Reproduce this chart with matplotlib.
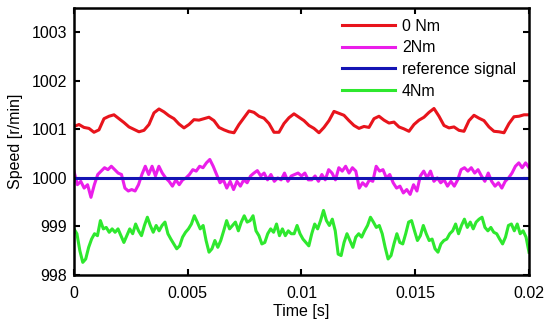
import matplotlib
matplotlib.use("Agg")
import matplotlib.pyplot as plt
import numpy as np

# speed traces, evenly spaced over 0 .. 0.02 s
speed_0nm = [1001.06, 1001.10, 1001.04, 1001.02, 1000.94, 1000.99, 1001.22, 1001.27, 1001.30, 1001.22,
             1001.14, 1001.05, 1001.00, 1000.95, 1000.98, 1001.10, 1001.34, 1001.42, 1001.36, 1001.28,
             1001.22, 1001.11, 1001.03, 1001.10, 1001.20, 1001.19, 1001.22, 1001.25, 1001.18, 1001.04,
             1000.99, 1000.95, 1000.93, 1001.10, 1001.24, 1001.38, 1001.35, 1001.27, 1001.23, 1001.12,
             1000.94, 1000.94, 1001.12, 1001.24, 1001.32, 1001.25, 1001.18, 1001.08, 1001.02, 1000.93,
             1001.04, 1001.18, 1001.37, 1001.33, 1001.29, 1001.18, 1001.08, 1001.02, 1001.06, 1001.04,
             1001.22, 1001.27, 1001.19, 1001.13, 1001.15, 1001.05, 1001.01, 1000.96, 1001.10, 1001.19,
             1001.25, 1001.35, 1001.43, 1001.27, 1001.08, 1001.03, 1001.05, 1000.98, 1000.96, 1001.18,
             1001.29, 1001.23, 1001.18, 1001.05, 1000.96, 1000.95, 1000.93, 1001.12, 1001.26, 1001.27,
             1001.30, 1001.30]

speed_2nm = [1000.14, 999.86, 999.93, 999.79, 999.86, 999.60, 999.86, 1000.07, 1000.14, 1000.21,
             1000.17, 1000.24, 1000.17, 1000.10, 1000.07, 999.79, 999.73, 999.76, 999.73, 999.86,
             1000.07, 1000.24, 1000.07, 1000.24, 1000.04, 1000.24, 1000.10, 1000.00, 999.93, 999.83,
             999.96, 999.86, 999.96, 1000.00, 1000.07, 1000.17, 1000.14, 1000.24, 1000.21, 1000.31,
             1000.38, 1000.24, 1000.07, 999.90, 999.96, 999.79, 999.93, 999.76, 999.93, 999.83,
             999.96, 999.90, 1000.04, 1000.10, 1000.15, 1000.04, 1000.10, 999.96, 1000.07, 999.93,
             1000.00, 999.96, 1000.10, 999.93, 1000.04, 1000.07, 1000.10, 1000.04, 1000.10, 999.96,
             999.96, 1000.04, 999.93, 1000.07, 999.96, 1000.17, 1000.10, 999.96, 1000.21, 1000.14,
             1000.24, 1000.10, 1000.21, 1000.14, 999.79, 999.90, 999.83, 999.96, 999.93, 1000.24,
             1000.14, 1000.17, 1000.00, 1000.07, 999.90, 999.79, 999.83, 999.69, 999.76, 999.66,
             999.86, 999.73, 1000.04, 1000.14, 1000.00, 1000.14, 999.93, 1000.00, 999.90, 999.96,
             999.83, 999.93, 999.83, 999.96, 1000.17, 1000.21, 1000.14, 1000.21, 1000.10, 1000.17,
             1000.04, 999.93, 1000.10, 999.93, 999.83, 999.90, 999.79, 999.93, 1000.00, 1000.10,
             1000.24, 1000.31, 1000.21, 1000.31, 1000.21]

speed_ref = [1000.0, 1000.0]

speed_4nm = [998.95, 998.85, 998.50, 998.26, 998.33, 998.57, 998.74, 998.85, 998.81, 999.12,
             998.95, 998.98, 998.88, 998.95, 998.88, 998.95, 998.81, 998.67, 998.81, 998.95,
             998.85, 999.05, 998.91, 998.81, 999.02, 999.19, 999.02, 998.88, 999.02, 998.91,
             999.02, 999.09, 998.85, 998.74, 998.64, 998.54, 998.60, 998.78, 998.88, 998.95,
             999.05, 999.22, 999.09, 998.95, 999.02, 998.71, 998.47, 998.54, 998.71, 998.57,
             998.71, 998.91, 999.12, 998.95, 999.02, 999.09, 998.91, 999.09, 999.22, 999.09,
             999.12, 999.22, 998.91, 998.81, 998.64, 998.67, 998.85, 998.95, 998.88, 999.05,
             998.81, 998.95, 998.81, 998.91, 998.85, 998.85, 999.02, 998.85, 998.74, 998.67,
             998.60, 998.85, 999.05, 998.95, 999.12, 999.33, 999.12, 999.02, 999.15, 998.91,
             998.43, 998.40, 998.67, 998.85, 998.71, 998.57, 998.78, 998.85, 998.78, 998.91,
             999.02, 999.19, 999.09, 998.98, 999.02, 998.85, 998.57, 998.33, 998.40, 998.64,
             998.85, 998.67, 998.64, 998.85, 999.09, 999.12, 998.91, 998.71, 998.81, 999.02,
             998.85, 998.71, 998.74, 998.54, 998.47, 998.64, 998.71, 998.74, 998.85, 998.91,
             999.05, 998.85, 999.02, 999.15, 998.98, 999.09, 998.95, 999.09, 999.15, 999.19,
             998.98, 998.91, 998.98, 998.88, 998.85, 998.74, 998.64, 998.78, 999.02, 999.05,
             998.91, 999.05, 998.85, 998.91, 998.78, 998.47]

t_end = 0.02
x_ticks = [0, 0.005, 0.01, 0.015, 0.02]
x_ticklabels = ['0', '0.005', '0.01', '0.015', '0.02']
y_ticks = [998, 999, 1000, 1001, 1002, 1003]

plt.rcParams['font.family'] = ['Liberation Sans', 'DejaVu Sans']

fig = plt.figure(figsize=(5.5, 3.28), dpi=100)
ax = fig.add_axes([0.1345, 0.1616, 0.8273, 0.814])

lw = 2.2
ax.plot(np.linspace(0, t_end, len(speed_0nm)), speed_0nm, color='#e8141c', lw=lw, label='0 Nm')
ax.plot(np.linspace(0, t_end, len(speed_2nm)), speed_2nm, color='#ea1eea', lw=lw, label='2Nm')
ax.plot(np.linspace(0, t_end, len(speed_ref)), speed_ref, color='#1414b4', lw=lw, label='reference signal')
ax.plot(np.linspace(0, t_end, len(speed_4nm)), speed_4nm, color='#2ee82e', lw=lw, label='4Nm')

ax.set_xlim(0, t_end)
ax.set_ylim(998, 1003.5)
ax.set_xticks(x_ticks)
ax.set_xticklabels(x_ticklabels)
ax.set_yticks(y_ticks)
ax.tick_params(direction='in', top=True, right=True, length=4, width=1.5, labelsize=11.5)
ax.tick_params(axis='x', pad=8)
ax.tick_params(axis='y', pad=5)
for s in ax.spines.values():
    s.set_linewidth(1.8)

ax.set_xlabel('Time [s]', fontsize=11.5, labelpad=2)
ax.set_ylabel('Speed [r/min]', fontsize=11.5, labelpad=6)

leg = ax.legend(loc='upper right', bbox_to_anchor=(0.989, 0.99), fontsize=11.5, frameon=True,
                fancybox=False, edgecolor='white', facecolor='white', framealpha=1,
                handlelength=3.3, handletextpad=0.45, labelspacing=0.42,
                borderaxespad=0.3, borderpad=0.2)

fig.savefig('out.png', dpi=100)
